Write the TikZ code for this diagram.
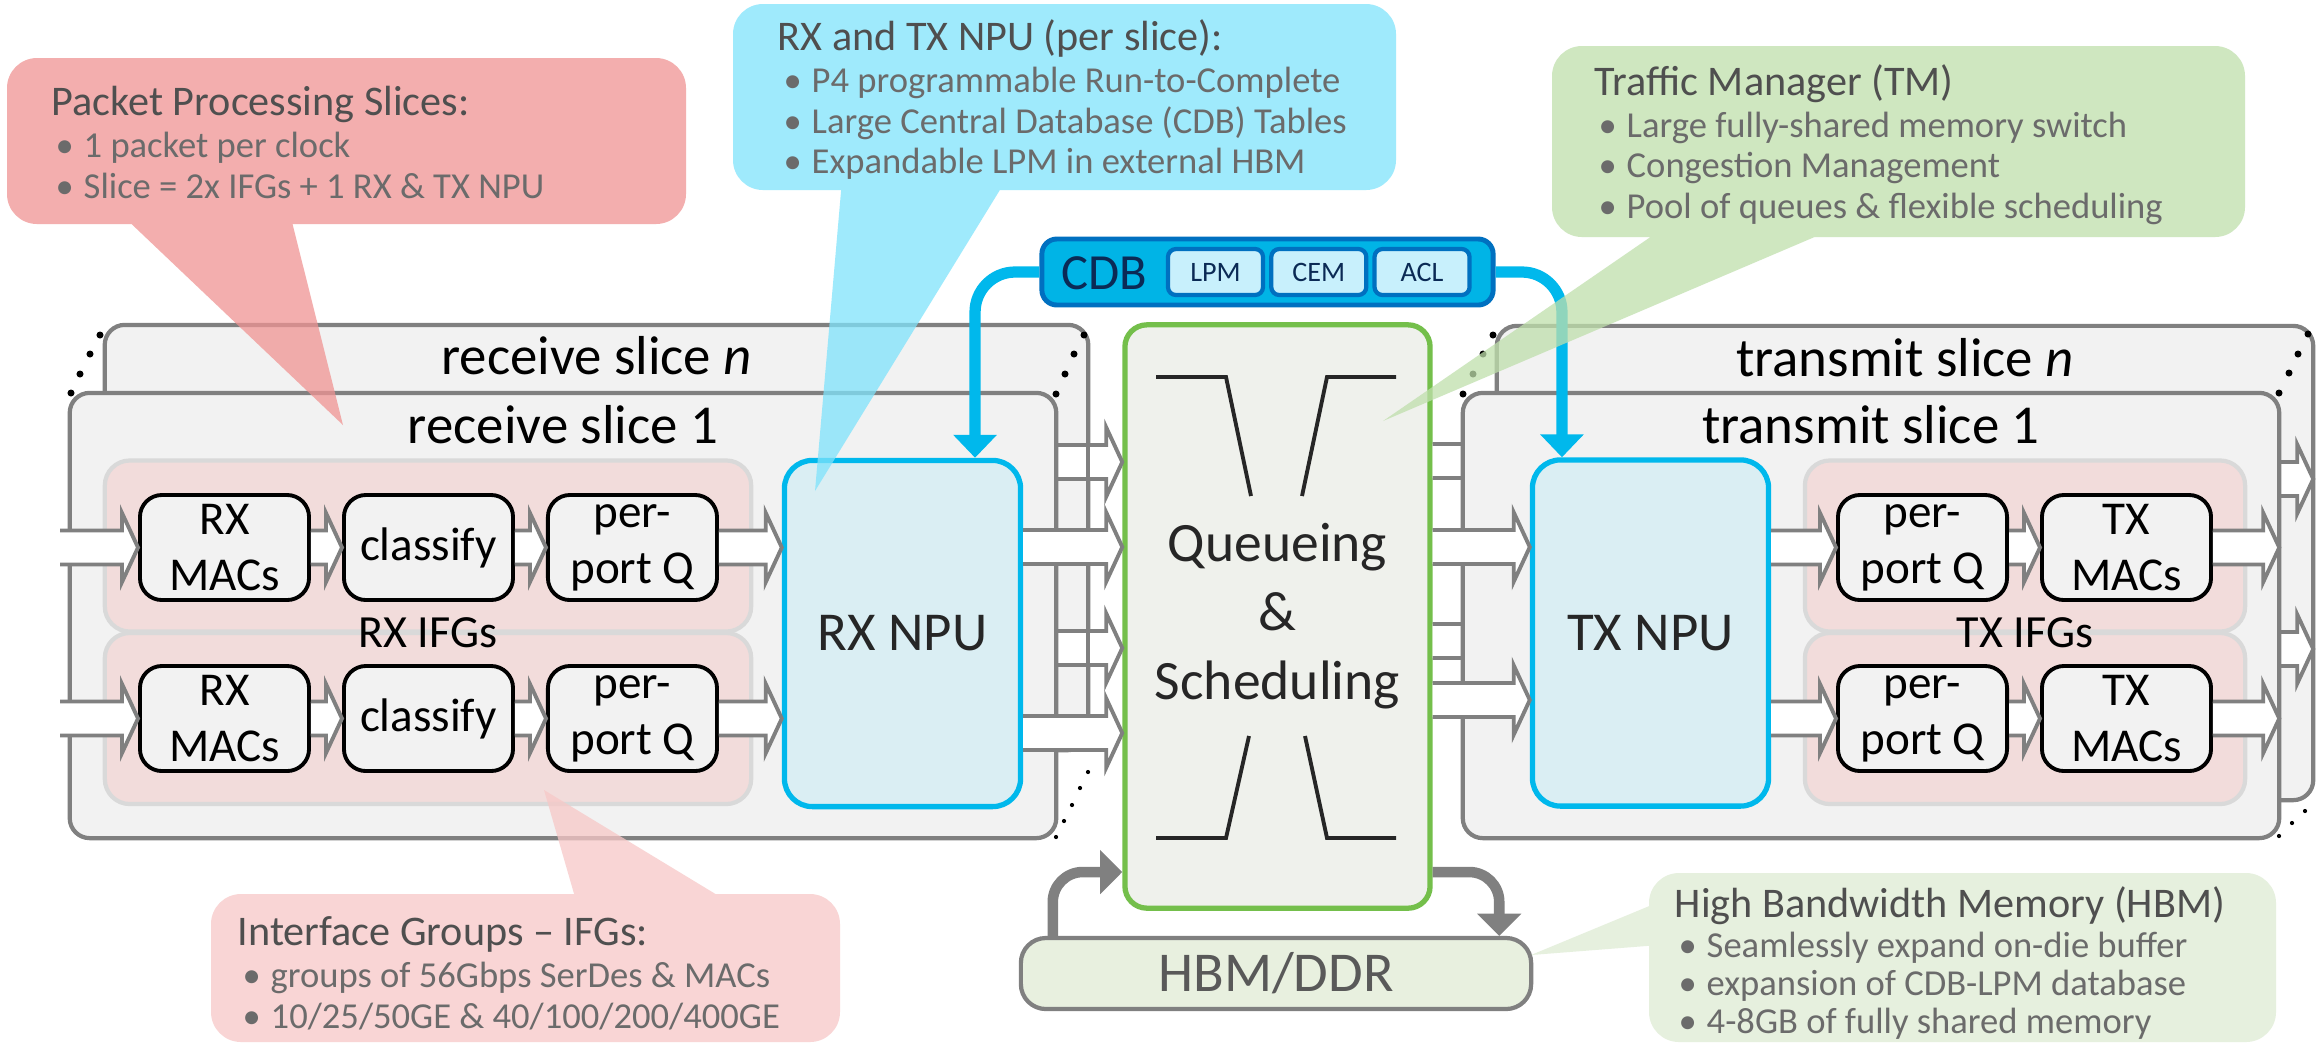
\documentclass[tikz,border=0pt]{standalone}
\usepackage{fontspec}
\setmainfont{Carlito}
\usetikzlibrary{arrows.meta,positioning,calc}
\definecolor{slicefill}{HTML}{F2F2F2}
\definecolor{slicegray}{HTML}{808080}
\definecolor{ifgfill}{HTML}{F2DCDB}
\definecolor{ifgline}{HTML}{D9D9D9}
\definecolor{unitfill}{HTML}{F2F2F2}
\definecolor{npufill}{HTML}{DAEEF3}
\definecolor{npuline}{HTML}{00B8EC}
\definecolor{queuefill}{HTML}{EFF1EC}
\definecolor{queueline}{HTML}{74BF4B}
\definecolor{darktext}{HTML}{262626}
\definecolor{cdbfill}{HTML}{00B4E6}
\definecolor{cdbline}{HTML}{0070C0}
\definecolor{cdbcell}{HTML}{C8F0FC}
\definecolor{cdbtext}{HTML}{0B2A55}
\definecolor{memgray}{HTML}{808080}
\definecolor{arrowgray}{HTML}{808080}
\definecolor{hbmfill}{HTML}{E8F0DF}
\definecolor{hbmtext}{HTML}{595959}
\definecolor{calltitle}{HTML}{4F4F4F}
\definecolor{callitem}{HTML}{6B6B6B}
\definecolor{ppsfill}{RGB}{240,148,147}
\definecolor{npucallfill}{RGB}{127,227,252}
\definecolor{tmfill}{RGB}{191,223,172}
\definecolor{ifgcallfill}{RGB}{247,200,199}
\definecolor{hbmcallfill}{RGB}{222,235,211}
\tikzset{
  slice box/.style={
    rectangle, rounded corners=0.2cm, draw=slicegray, line width=1.2pt,
    fill=slicefill, outer sep=0pt
  },
  slice edge/.style={draw=slicegray, line width=1.2pt},
  slice title/.style={anchor=base, inner sep=0pt, font=\fontsize{15.6}{18}\selectfont},
  ifg box/.style={
    rectangle, rounded corners=0.25cm, draw=ifgline, line width=1.2pt,
    fill=ifgfill, minimum height=1.71cm
  },
  ifg label/.style={anchor=base, inner sep=0pt, font=\fontsize{13.1}{15}\selectfont},
  unit box/.style={
    rectangle, rounded corners=0.22cm, draw=black, line width=1.1pt,
    fill=unitfill, align=center, inner sep=0pt,
    minimum width=1.69cm, minimum height=1.05cm,
    font=\fontsize{13.4}{15.9}\selectfont
  },
  npu box/.style={
    rectangle, rounded corners=0.28cm, draw=npuline, line width=1.5pt,
    fill=npufill, text=darktext, minimum width=2.36cm, minimum height=3.46cm,
    font=\fontsize{15.6}{18}\selectfont
  },
  queue box/.style={
    rectangle, rounded corners=0.22cm, draw=queueline, line width=1.5pt,
    fill=queuefill, text=darktext, align=center,
    minimum width=3.05cm, minimum height=5.83cm,
    font=\fontsize{15.8}{19.6}\selectfont
  },
  hourglass/.style={draw=darktext, line width=1.1pt},
  cdb box/.style={
    rectangle, rounded corners=0.15cm, draw=cdbline, line width=1.4pt,
    fill=cdbfill, minimum width=4.51cm, minimum height=0.66cm
  },
  cdb cell/.style={
    rectangle, rounded corners=0.08cm, draw=cdbline, line width=1.2pt,
    fill=cdbcell, text=cdbtext, minimum width=0.95cm, minimum height=0.46cm,
    inner sep=0pt, font=\fontsize{8}{9}\selectfont
  },
  cdb label/.style={text=cdbtext, inner sep=0pt, font=\fontsize{14.4}{16}\selectfont},
  cdb link/.style={
    draw=npuline, line width=3.2pt, rounded corners=0.4cm,
    -{Triangle[width=12pt,length=6.5pt]}
  },
  mem link/.style={
    draw=memgray, line width=3pt, rounded corners=0.3cm,
    -{Triangle[width=12.2pt,length=6.3pt]}
  },
  hbm box/.style={
    rectangle, rounded corners=0.25cm, draw=memgray, line width=1.2pt,
    fill=hbmfill, text=hbmtext, minimum width=5.1cm, minimum height=0.71cm,
    font=\fontsize{16}{18}\selectfont
  },
  fat arrow/.style={draw=arrowgray, line width=1.1pt},
  ellipsis dot/.style={fill=black},
  callout shape/.style={fill opacity=0.75},
  callout title/.style={
    anchor=base west, inner sep=0pt, text=calltitle,
    font=\fontsize{12}{14}\selectfont
  },
  callout item/.style={
    anchor=base west, inner sep=0pt, text=callitem,
    font=\fontsize{10.4}{12}\selectfont,
    execute at begin node={\makebox[0.28cm][l]{\textbullet}}
  }
}
% white block arrow, open at its tail
\newcommand{\fatarrow}[2]{%
  \path[fill=white] let \p1=(#1), \p2=(#2) in
    (\x1,\y1+0.17cm) -- (\x2-0.16cm,\y1+0.17cm) -- (\x2-0.16cm,\y1+0.345cm)
    -- (\x2,\y1) -- (\x2-0.16cm,\y1-0.345cm) -- (\x2-0.16cm,\y1-0.17cm)
    -- (\x1,\y1-0.17cm) -- cycle;
  \draw[fat arrow] let \p1=(#1), \p2=(#2) in
    (\x1,\y1+0.17cm) -- (\x2-0.16cm,\y1+0.17cm) -- (\x2-0.16cm,\y1+0.345cm)
    -- (\x2,\y1) -- (\x2-0.16cm,\y1-0.345cm) -- (\x2-0.16cm,\y1-0.17cm)
    -- (\x1,\y1-0.17cm);%
}

\begin{document}
\begin{tikzpicture}[x=0.01cm, y=-0.01cm]
  \useasboundingbox[fill=white] (0,0) rectangle (2321,1044);

  % traffic manager
  \node[queue box] (queue) at (1277.5,616.5) {Queueing\\\&\\Scheduling};
  \draw[hourglass] (1156,377) -- (1226,377) -- (1251,496);
  \draw[hourglass] (1396,377) -- (1327,377) -- (1302,496);
  \draw[hourglass] (1156,838) -- (1226,838) -- (1249,736);
  \draw[hourglass] (1396,838) -- (1327,838) -- (1305,736);

  % slices n (behind)
  \node[slice box, minimum width=9.83cm, minimum height=4.25cm] (rxslicen) at (596.5,537.5) {};
  \node[slice title] (rxtitlen) at ([yshift=-0.5cm]rxslicen.north) {receive slice \textit{n}};
  \node[slice box, minimum width=8.16cm, minimum height=4.74cm] (txslicen) at (1905,563) {};
  \node[slice title] (txtitlen) at ([yshift=-0.51cm]txslicen.north) {transmit slice \textit{n}};
  \fatarrow{rxslicen.center |- 0,462}{queue.west}
  \fatarrow{rxslicen.center |- 0,648}{queue.west}
  \draw[slice edge] ([yshift=-0.2cm]rxslicen.north east) -- ([yshift=0.2cm]rxslicen.south east);
  \fatarrow{queue.east |- 0,461}{txslicen.west}
  \fatarrow{queue.east |- 0,641}{txslicen.west}
  \fatarrow{txslicen.center |- 0,479}{txslicen.east}
  \fatarrow{txslicen.center |- 0,649}{txslicen.east}

  % slices 1
  \node[slice box, minimum width=9.86cm, minimum height=4.45cm] (rxslice1) at (563,615.5) {};
  \node[slice title] (rxtitle1) at ([yshift=-0.51cm]rxslice1.north) {receive slice 1};
  \node[slice box, minimum width=8.16cm, minimum height=4.45cm] (txslice1) at (1871,615.5) {};
  \node[slice title] (txtitle1) at ([yshift=-0.51cm]txslice1.north) {transmit slice 1};

  % interface groups
  \node[ifg box, minimum width=6.46cm] (rxifg1) at (428,546) {};
  \node[ifg box, minimum width=6.46cm] (rxifg2) at (428,718.5) {};
  \node[ifg label] (rxifglabel) at (428,647) {RX IFGs};
  \node[ifg box, minimum width=4.4cm] (txifg1) at (2025,546) {};
  \node[ifg box, minimum width=4.4cm] (txifg2) at (2025,718.5) {};
  \node[ifg label] (txifglabel) at (2025,647) {TX IFGs};

  % receive units
  \node[unit box] (rxmac1) at (224.5,547.5) {RX\\MACs};
  \node[unit box, right=0.31cm of rxmac1] (rxcls1) {classify};
  \node[unit box, right=0.31cm of rxcls1] (rxq1) {per-\\port Q};
  \node[unit box] (rxmac2) at (224.5,718.5) {RX\\MACs};
  \node[unit box, right=0.31cm of rxmac2] (rxcls2) {classify};
  \node[unit box, right=0.31cm of rxcls2] (rxq2) {per-\\port Q};
  \node[npu box] (rxnpu) at (902.5,633.5) {RX NPU};

  % transmit units
  \node[npu box] (txnpu) at (1650.5,633) {TX NPU};
  \node[unit box] (txq1) at (1922.5,547.5) {per-\\port Q};
  \node[unit box, right=0.31cm of txq1] (txmac1) {TX\\MACs};
  \node[unit box] (txq2) at (1922.5,718.5) {per-\\port Q};
  \node[unit box, right=0.31cm of txq2] (txmac2) {TX\\MACs};

  % packet path
  \coordinate (rxin1) at (60,547.5);
  \coordinate (rxin2) at (60,718.5);
  \fatarrow{rxin1}{rxmac1.west}
  \fatarrow{rxmac1.east}{rxcls1.west}
  \fatarrow{rxcls1.east}{rxq1.west}
  \fatarrow{rxq1.east}{rxnpu.west}
  \fatarrow{rxin2}{rxmac2.west}
  \fatarrow{rxmac2.east}{rxcls2.west}
  \fatarrow{rxcls2.east}{rxq2.west}
  \fatarrow{rxq2.east}{rxnpu.west}
  \fatarrow{rxnpu.east |- 0,547}{queue.west}
  \fatarrow{rxnpu.east |- 0,733}{queue.west}
  \fatarrow{queue.east |- 0,547}{txnpu.west}
  \fatarrow{queue.east |- 0,700}{txnpu.west}
  \fatarrow{txnpu.east |- txq1}{txq1.west}
  \fatarrow{txq1.east}{txmac1.west}
  \fatarrow{txmac1.east}{txslice1.east}
  \fatarrow{txnpu.east |- txq2}{txq2.west}
  \fatarrow{txq2.east}{txmac2.west}
  \fatarrow{txmac2.east}{txslice1.east}

  % central database
  \node[cdb box] (cdb) at (1267.5,272) {};
  \node[cdb label] (cdblabel) at (1104,273) {CDB};
  \node[cdb cell] (lpm) at (1215.5,272) {LPM};
  \node[cdb cell, right=0.04cm of lpm] (cem) {CEM};
  \node[cdb cell, right=0.04cm of cem] (acl) {ACL};
  \draw[cdb link] (cdb.west) -| ([xshift=0.725cm]rxnpu.north);
  \draw[cdb link] (cdb.east) -| ([xshift=-0.885cm]txnpu.north);

  % external memory
  \node[hbm box] (hbm) at (1276,973.5) {HBM/DDR};
  \draw[mem link] ([xshift=0.34cm]hbm.north west) |- (queue.west |- 0,872);
  \draw[mem link] (queue.east |- 0,872) -| ([xshift=-0.34cm]hbm.north east);

  % more slices
  \fill[ellipsis dot] (100,335) circle (1pt) (90,354) circle (1pt) (80,374) circle (1pt) (71,393) circle (1pt);
  \fill[ellipsis dot] (1084,335) circle (1pt) (1074,354) circle (1pt) (1065,374) circle (1pt) (1056,394) circle (1pt);
  \fill[ellipsis dot] (1088,772) circle (0.6pt) (1080,788) circle (0.6pt) (1072,805) circle (0.6pt)
    (1064,821) circle (0.6pt) (1056,837) circle (0.6pt);
  \fill[ellipsis dot] (1493,335) circle (1pt) (1483,354) circle (1pt) (1473,374) circle (1pt) (1463,394) circle (1pt);
  \fill[ellipsis dot] (2308,334) circle (1pt) (2298,354) circle (1pt) (2289,373) circle (1pt) (2279,393) circle (1pt);
  \fill[ellipsis dot] (2305,811) circle (0.6pt) (2292,823) circle (0.6pt) (2279,836) circle (0.6pt);

  % callouts
  \fill[callout shape, fill=ppsfill] [rounded corners=0.3cm] (7,58) -- (686,58) -- (686,224) -- (7,224) -- cycle
    [sharp corners] (290,214) -- (343,425) -- (121,214) -- cycle;
  \node[callout title] (ppstitle) at (51,115) {Packet Processing Slices:};
  \node[callout item] (ppsa) at (55,157) {1 packet per clock};
  \node[callout item] (ppsb) at (55,198) {Slice = 2x IFGs + 1 RX \& TX NPU};

  \fill[callout shape, fill=npucallfill] [rounded corners=0.3cm] (733,4) -- (1396,4) -- (1396,190) -- (733,190) -- cycle
    [sharp corners] (1006,180) -- (815,491) -- (842,180) -- cycle;
  \node[callout title] (nputitle) at (777,50) {RX and TX NPU (per slice):};
  \node[callout item] (npua) at (783,92) {P4 programmable Run-to-Complete};
  \node[callout item] (npub) at (783,133) {Large Central Database (CDB) Tables};
  \node[callout item] (npuc) at (783,173) {Expandable LPM in external HBM};

  \fill[callout shape, fill=tmfill] [rounded corners=0.3cm] (1552,46) -- (2245,46) -- (2245,237) -- (1552,237) -- cycle
    [sharp corners] (1838,227) -- (1383,421) -- (1665,227) -- cycle;
  \node[callout title] (tmtitle) at (1594,95) {Traffic Manager (TM)};
  \node[callout item] (tma) at (1598,137) {Large fully-shared memory switch};
  \node[callout item] (tmb) at (1598,177) {Congestion Management};
  \node[callout item] (tmc) at (1598,218) {Pool of queues \& flexible scheduling};

  \fill[callout shape, fill=ifgcallfill] [rounded corners=0.3cm] (211,894) -- (840,894) -- (840,1042) -- (211,1042) -- cycle
    [sharp corners] (577,904) -- (544,790) -- (732,904) -- cycle;
  \node[callout title] (ifgtitle) at (237,945) {Interface Groups -- IFGs:};
  \node[callout item] (ifga) at (242,987) {groups of 56Gbps SerDes \& MACs};
  \node[callout item] (ifgb) at (242,1028) {10/25/50GE \& 40/100/200/400GE};

  \fill[callout shape, fill=hbmcallfill] [rounded corners=0.3cm] (1649,873) -- (2276,873) -- (2276,1042) -- (1649,1042) -- cycle
    [sharp corners] (1659,945) -- (1531,955) -- (1659,902) -- cycle;
  \node[callout title] (hbmtitle) at (1674,917) {High Bandwidth Memory (HBM)};
  \node[callout item] (hbma) at (1678,957) {Seamlessly expand on-die buffer};
  \node[callout item] (hbmb) at (1678,995) {expansion of CDB-LPM database};
  \node[callout item] (hbmc) at (1678,1033) {4-8GB of fully shared memory};
\end{tikzpicture}
\end{document}
